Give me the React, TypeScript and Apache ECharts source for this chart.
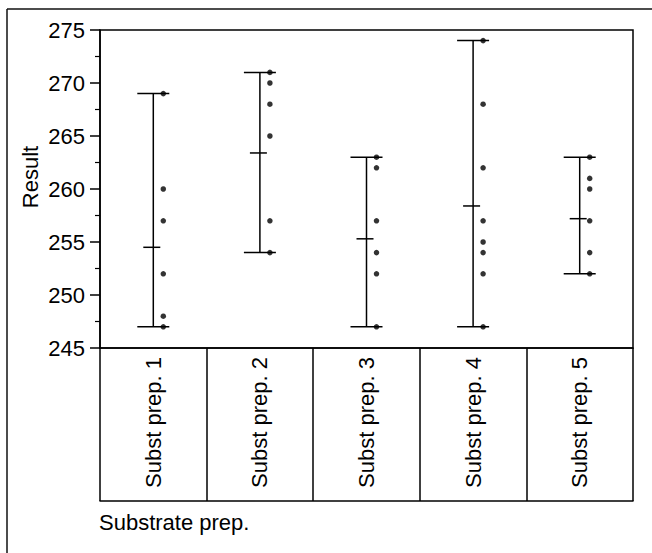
import React, { useEffect, useRef } from "react";
import * as echarts from "echarts";

const categories = ["Subst prep. 1", "Subst prep. 2", "Subst prep. 3", "Subst prep. 4", "Subst prep. 5"];
const prep1 = [269, 260, 257, 252, 248, 247];
const prep2 = [271, 270, 268, 265, 257, 254];
const prep3 = [263, 262, 257, 254, 252, 247];
const prep4 = [274, 268, 262, 257, 255, 254, 252, 247];
const prep5 = [263, 261, 260, 257, 254, 252];
const groupValues = [prep1, prep2, prep3, prep4, prep5];
const meanValues = [254.5, 263.4, 255.3, 258.4, 257.2];
const yMin = 245;
const yMax = 275;
const yStep = 5;
const yAxisTitle = "Result";
const xAxisTitle = "Substrate prep.";

const FONT = "'Liberation Sans', Arial, Helvetica, sans-serif";
const FS = 22;

export default function App() {
  const ref = useRef<HTMLDivElement>(null);
  useEffect(() => {
    if (!ref.current) return;
    const chart = echarts.init(ref.current, undefined, { renderer: "svg" });
    const rangeData = groupValues.map((g, i) => [i, Math.min(...g), Math.max(...g), meanValues[i]]);
    const pointData: number[][] = [];
    groupValues.forEach((g, i) => g.forEach((v) => pointData.push([i, v])));
    const lineStyle = { stroke: "#000", lineWidth: 1.5 };
    chart.setOption({
      animation: false,
      backgroundColor: "#fff",
      grid: { left: 100, top: 30, width: 533, height: 318, show: true, borderColor: "#000", borderWidth: 1.5, backgroundColor: "transparent" },
      xAxis: [
        {
          type: "category",
          data: categories,
          position: "bottom",
          axisLine: { show: true, lineStyle: { color: "#000", width: 1.5 } },
          axisTick: { show: true, length: 153, lineStyle: { color: "#000", width: 1.5 } },
          axisLabel: { rotate: 90, margin: 9, fontSize: FS, color: "#000", fontFamily: FONT },
          splitLine: { show: false },
        },
        {
          type: "category",
          data: categories,
          position: "bottom",
          offset: 153,
          axisLine: { show: true, lineStyle: { color: "#000", width: 1.5 } },
          axisTick: { show: false },
          axisLabel: { show: false },
          splitLine: { show: false },
        },
      ],
      yAxis: {
        type: "value",
        min: yMin,
        max: yMax,
        interval: yStep,
        axisLine: { show: true, lineStyle: { color: "#000", width: 1.5 } },
        axisTick: { show: true, length: 10, lineStyle: { color: "#000", width: 1.5 } },
        minorTick: { show: true, splitNumber: 2, length: 5, lineStyle: { color: "#000", width: 1.2 } },
        axisLabel: { margin: 15, fontSize: FS, color: "#000", fontFamily: FONT },
        splitLine: { show: false },
      },
      graphic: [
        { type: "line", shape: { x1: 7, y1: 9, x2: 652, y2: 9 }, style: { stroke: "#111", lineWidth: 1.5 } },
        { type: "line", shape: { x1: 7, y1: 9, x2: 7, y2: 553 }, style: { stroke: "#111", lineWidth: 1.5 } },
        {
          type: "text",
          x: 30,
          y: 177,
          rotation: Math.PI / 2,
          style: { text: yAxisTitle, fontSize: FS, fill: "#000", fontFamily: FONT, align: "center", verticalAlign: "middle" },
        },
        {
          type: "text",
          x: 99,
          y: 522,
          style: { text: xAxisTitle, fontSize: FS, fill: "#000", fontFamily: FONT, align: "left", verticalAlign: "middle" },
        },
      ],
      series: [
        {
          type: "custom",
          xAxisIndex: 0,
          clip: false,
          data: rangeData,
          encode: { x: 0, y: [1, 2, 3] },
          renderItem: (params: any, api: any) => {
            const x = api.value(0);
            const pLo = api.coord([x, api.value(1)]);
            const pHi = api.coord([x, api.value(2)]);
            const pMean = api.coord([x, api.value(3)]);
            const cx = pLo[0];
            return {
              type: "group",
              children: [
                { type: "line", shape: { x1: cx, y1: pHi[1], x2: cx, y2: pLo[1] }, style: lineStyle },
                { type: "line", shape: { x1: cx - 16, y1: pHi[1], x2: cx + 16, y2: pHi[1] }, style: lineStyle },
                { type: "line", shape: { x1: cx - 16, y1: pLo[1], x2: cx + 16, y2: pLo[1] }, style: lineStyle },
                { type: "line", shape: { x1: cx - 10, y1: pMean[1], x2: cx + 7, y2: pMean[1] }, style: lineStyle },
              ],
            };
          },
        },
        {
          type: "scatter",
          xAxisIndex: 0,
          data: pointData,
          symbol: "circle",
          symbolSize: 5.5,
          symbolOffset: [10, 0],
          itemStyle: { color: "#000" },
        },
      ],
    });
    return () => chart.dispose();
  }, []);
  return <div ref={ref} style={{ position: "absolute", left: 0, top: 0, width: 652, height: 553 }} />;
}
